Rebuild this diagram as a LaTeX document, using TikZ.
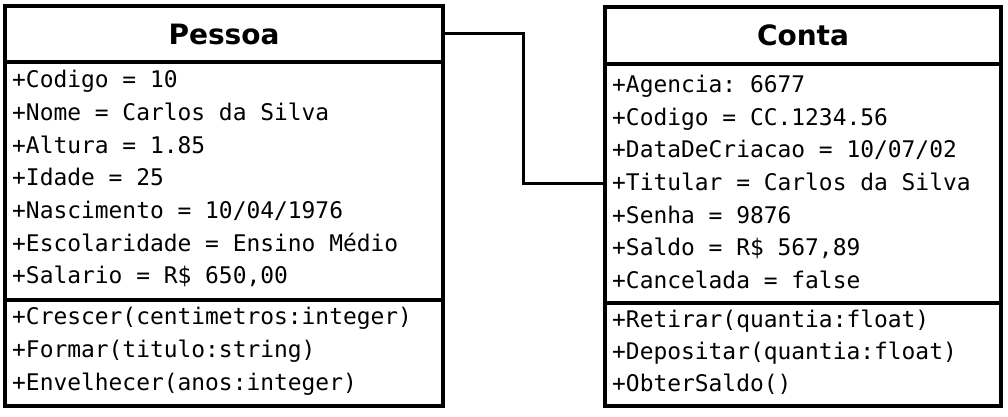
\documentclass[tikz,border=0pt]{standalone}
\usepackage{fontspec}
\setmonofont{DejaVu Sans Mono}
\setsansfont{DejaVu Sans}
\tikzset{classbox/.style={draw,line width=3.2pt,inner sep=0pt},classname/.style={inner sep=0pt,font=\sffamily\bfseries\fontsize{28}{31}\selectfont},member/.style={anchor=west,inner sep=0pt,text height=.76em,text depth=.24em,font=\ttfamily\fontsize{22.9}{26}\selectfont},rule/.style={line width=3.2pt},link/.style={line width=3pt}}

\begin{document}
\begin{tikzpicture}[x=1pt,y=-1pt]
\path[use as bounding box] (0,0) rectangle (1008,417);
\node[classbox,minimum width=438pt,minimum height=400pt] (pessoa) at (224.0,206.0) {};
\node[classname] (pessoaTitle) at (224.0,34.0) {Pessoa};
\draw[rule] (pessoa.west |- 0,62) -- (pessoa.east |- 0,62);
\draw[rule] (pessoa.west |- 0,300) -- (pessoa.east |- 0,300);
\node[member] (pa1) at (12.0,85.0) {+Codigo = 10};
\node[member] (pa2) at (12.0,118.0) {+Nome = Carlos da Silva};
\node[member] (pa3) at (12.0,151.0) {+Altura = 1.85};
\node[member] (pa4) at (12.0,183.0) {+Idade = 25};
\node[member] (pa5) at (12.0,216.0) {+Nascimento = 10/04/1976};
\node[member] (pa6) at (12.0,249.0) {+Escolaridade = Ensino Médio};
\node[member] (pa7) at (12.0,281.0) {+Salario = R\$ 650,00};
\node[member] (pm1) at (12.0,322.0) {+Crescer(centimetros:integer)};
\node[member] (pm2) at (12.0,355.0) {+Formar(titulo:string)};
\node[member] (pm3) at (12.0,388.0) {+Envelhecer(anos:integer)};
\node[classbox,minimum width=396pt,minimum height=399pt] (conta) at (803.0,206.5) {};
\node[classname] (contaTitle) at (803.0,35.5) {Conta};
\draw[rule] (conta.west |- 0,64) -- (conta.east |- 0,64);
\draw[rule] (conta.west |- 0,303) -- (conta.east |- 0,303);
\node[member] (ca1) at (612.0,90.0) {+Agencia: 6677};
\node[member] (ca2) at (612.0,123.0) {+Codigo = CC.1234.56};
\node[member] (ca3) at (612.0,155.0) {+DataDeCriacao = 10/07/02};
\node[member] (ca4) at (612.0,188.0) {+Titular = Carlos da Silva};
\node[member] (ca5) at (612.0,221.0) {+Senha = 9876};
\node[member] (ca6) at (612.0,253.0) {+Saldo = R\$ 567,89};
\node[member] (ca7) at (612.0,286.0) {+Cancelada = false};
\node[member] (cm1) at (612.0,325.0) {+Retirar(quantia:float)};
\node[member] (cm2) at (612.0,357.0) {+Depositar(quantia:float)};
\node[member] (cm3) at (612.0,389.0) {+ObterSaldo()};
\coordinate (knee) at (523.0,108.0);
\coordinate (titularEnd) at (605.0,183.0);
\draw[link] (pessoa.east |- pessoaTitle) -| (knee) |- (titularEnd);
\end{tikzpicture}
\end{document}
